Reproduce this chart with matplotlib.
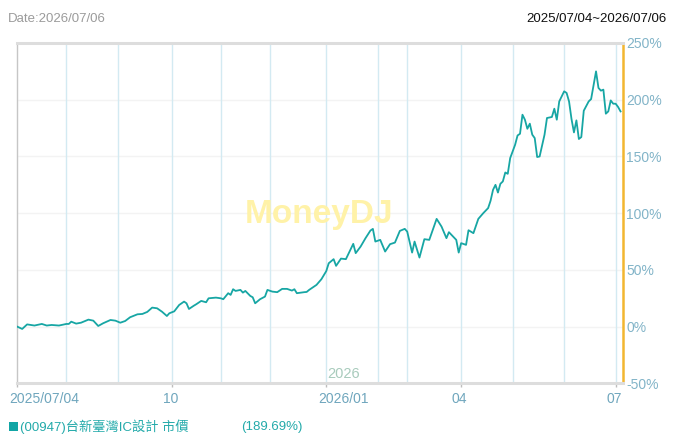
import matplotlib
matplotlib.use("Agg")
import matplotlib.pyplot as plt
from matplotlib.patches import Rectangle

# trading-day index (0 = 2025/07/04) and cumulative return in %
days = [0, 2, 4, 7, 10, 12, 14, 17, 20, 21, 22, 24, 26, 29, 31, 33, 35, 38, 40, 42,
        44, 46, 49, 51, 53, 55, 57, 59, 61, 62, 64, 66, 68, 69, 70, 72, 73, 75, 77, 78,
        81, 83, 84, 86, 87, 88, 89, 91, 92, 93, 95, 96, 97, 99, 101, 102, 104, 106, 108, 110,
        112, 113, 114, 117, 118, 119, 120, 122, 124, 126, 127, 129, 130, 132, 134, 137, 138, 140, 142, 144,
        145, 146, 148, 150, 152, 154, 156, 158, 159, 161, 162, 164, 166, 168, 171, 173, 175, 176, 179, 180,
        181, 183, 184, 186, 188, 190, 192, 193, 194, 195, 196, 197, 198, 199, 200, 201, 203, 204, 205, 206,
        207, 208, 209, 210, 211, 212, 213, 215, 216, 218, 219, 220, 221, 223, 224, 225, 226, 227, 228, 229,
        230, 231, 233, 234, 236, 237, 238, 239, 240, 241, 242, 243, 244, 245, 246]
pct = [0, -2, 2, 1, 2.4, 1, 1.5, 1, 2.4, 2.4, 4.4, 2.7, 3.5, 6.2, 5.3, 0.6, 3, 5.9, 5.3, 3.5,
       5, 8.3, 10.9, 11.2, 13, 16.8, 16.2, 13.2, 9.4, 11.8, 13.5, 19.1, 22.1, 20.6, 15.6, 18.5, 19.8, 22.7, 21.5, 25,
       25.6, 25, 24.2, 29.5, 28, 33, 31.5, 32.4, 30, 31.5, 27.1, 25.9, 20.6, 24.2, 26.5, 32.4, 30.9, 30.4, 33.3, 33.3,
       31.8, 33, 29.5, 30.4, 30.6, 32.4, 33.9, 36.8, 41.8, 49, 55.9, 59.5, 53.6, 60, 59.5, 73, 64.8, 70.6, 78, 84.7,
       86.2, 75, 76.5, 66.2, 72.7, 74.1, 84.4, 86.2, 83.8, 65.3, 75, 60.9, 77.1, 76.5, 95, 88.2, 78, 83.3, 76.5, 65.3,
       73.6, 72.1, 85, 82.4, 95, 100, 104.5, 111, 120.6, 125, 118.2, 125.9, 128, 135.9, 134.7, 148.6, 160.3, 168.5, 170, 186.8,
       182.4, 174.4, 178.9, 169.2, 166.2, 149.5, 150, 169.2, 183.9, 184.8, 192.1, 182.4, 198.5, 207.4, 206, 198.5, 183, 171.2, 181.8, 165.4,
       167.1, 190.3, 198.5, 200.6, 225, 210.4, 208, 208.9, 187.7, 189.7, 199.4, 196.5, 196.5, 193.6, 189.7]

month_starts = [20, 41, 63, 83, 103, 126, 147, 159, 181, 202, 223, 244]
tick_days = [0, 63, 126, 181, 244]
tick_labels = ["2025/07/04", "10", "2026/01", "04", "07"]
y_ticks = [-50, 0, 50, 100, 150, 200, 250]
last_day = 247

name = "(00947)台新臺灣IC設計 市價"
last_pct = "(189.69%)"

FONT = ["Liberation Sans", "DejaVu Sans"]
CJK = ["Liberation Sans", "Noto Sans CJK TC", "DejaVu Sans"]
plt.rcParams["font.family"] = FONT
FS = 9.5

W, H = 676, 445
fig = plt.figure(figsize=(W / 100, H / 100), dpi=100)
ax = fig.add_axes([17.3 / W, 1 - 383.4 / H, 605.7 / W, 340.4 / H])

teal = "#17a6a4"
for d in month_starts:
    ax.axvline(d, color="#d3eaf2", lw=1, zorder=1)
for v in y_ticks:
    ax.axhline(v, color="#f3f3f3", lw=1, zorder=0)

ax.text(0.498, 0.497, "MoneyDJ", transform=ax.transAxes, ha="center", va="center",
        fontsize=24, fontweight="bold", color="#fff2a8", zorder=2)

ax.plot(days, pct, color=teal, lw=1.3, zorder=3)

ax.set_xlim(0, last_day)
ax.set_ylim(-50, 250)

for s in ("top", "bottom"):
    ax.spines[s].set_color("#dddddd")
    ax.spines[s].set_linewidth(2.2)
ax.spines["left"].set_color("#c6c6c6")
ax.spines["left"].set_linewidth(1)
ax.spines["right"].set_color("#f2b630")
ax.spines["right"].set_linewidth(1.8)

ax.yaxis.tick_right()
ax.set_yticks(y_ticks)
ax.set_yticklabels([f"{v}%" for v in y_ticks])
ax.tick_params(axis="y", length=0, pad=2.5, labelsize=FS + 0.5, labelcolor="#82b4c8")

ax.set_xticks(tick_days)
ax.set_xticklabels([])
ax.tick_params(axis="x", length=3, width=1, color="#bdbdbd")

for d, lab in zip(tick_days, tick_labels):
    if len(lab) > 2:
        ax.annotate(lab, xy=(d, 0), xycoords=("data", "axes fraction"), xytext=(-8, -16),
                    textcoords="offset pixels", ha="left", va="center",
                    fontsize=FS + 0.5, color="#6fa6bd")
    else:
        ax.annotate(lab, xy=(d, 0), xycoords=("data", "axes fraction"), xytext=(-1.5, -16),
                    textcoords="offset pixels", ha="center", va="center",
                    fontsize=FS + 0.5, color="#6fa6bd")

ax.annotate("2026", xy=(126, 0), xycoords=("data", "axes fraction"), xytext=(1, 2),
            textcoords="offset pixels", ha="left", va="bottom", fontsize=FS + 1, color="#a8cbbc")

fig.text(8 / W, 1 - 18.5 / H, "Date:2026/07/06", ha="left", va="center", fontsize=FS, color="#9b9b9b")
fig.text(667 / W, 1 - 18.5 / H, "2025/07/04~2026/07/06", ha="right", va="center", fontsize=FS, color="#111111")

fig.add_artist(Rectangle((9.3 / W, 1 - 431 / H), 9 / W, 9 / H, transform=fig.transFigure,
                         facecolor="#12a5a5", edgecolor="none"))
fig.text(20.5 / W, 1 - 427 / H, name, ha="left", va="center", fontsize=FS, color="#23aaaa", family=CJK)
fig.text(241 / W, 1 - 427 / H, last_pct, ha="left", va="center", fontsize=FS, color="#23aaaa")

fig.savefig("out.png", dpi=100)
